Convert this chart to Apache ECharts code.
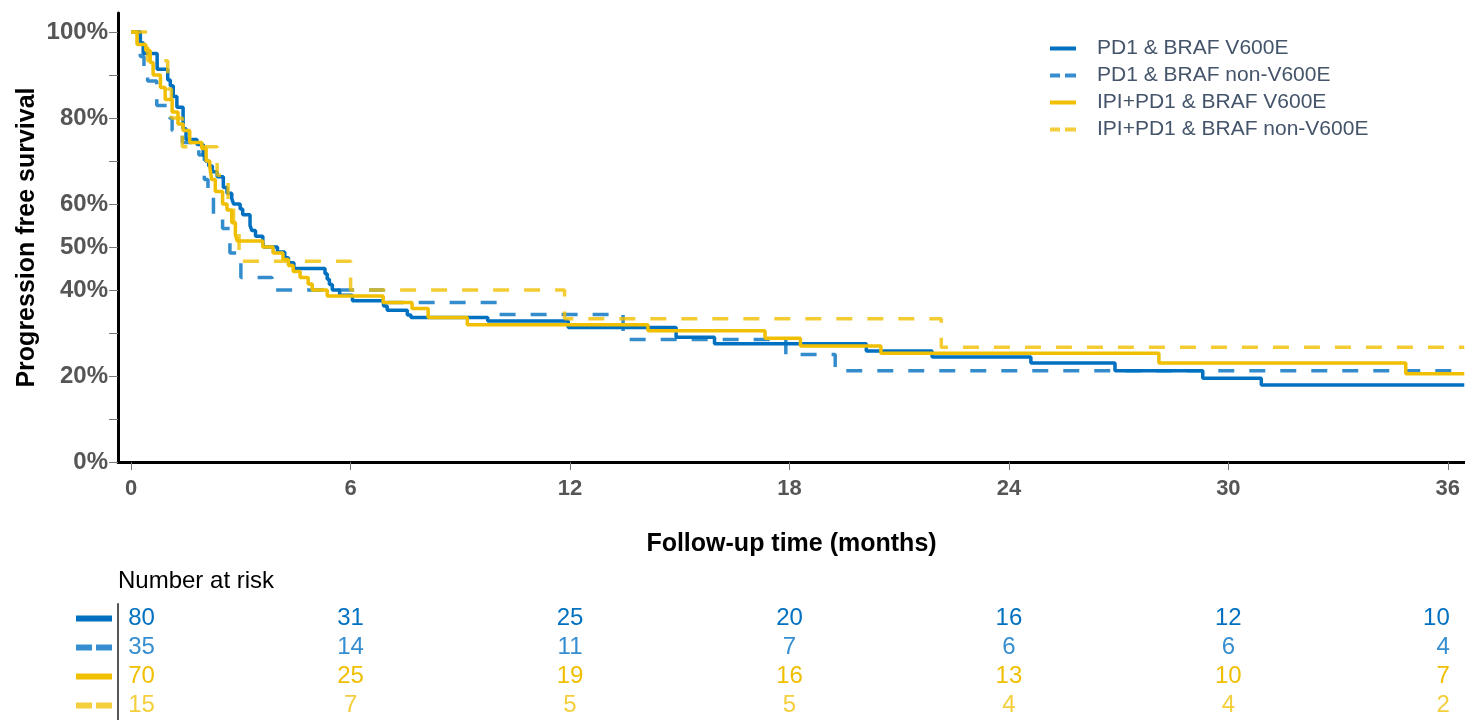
<!DOCTYPE html>
<html>
<head>
<meta charset="utf-8">
<script src="https://cdn.jsdelivr.net/npm/echarts@6/dist/echarts.min.js"></script>
<style>html,body{margin:0;padding:0;background:#fff}#c{width:1465px;height:720px}</style>
</head>
<body>
<div id="c"></div>
<script>
// ---- data ----
const seriesNames = ['PD1 & BRAF V600E', 'PD1 & BRAF non-V600E', 'IPI+PD1 & BRAF V600E', 'IPI+PD1 & BRAF non-V600E'];
const xTickMonths = [0, 6, 12, 18, 24, 30, 36];
const yTickValues = [0, 10, 20, 30, 40, 50, 60, 70, 80, 90, 100];
const yLabelValues = [0, 20, 40, 50, 60, 80, 100];

// PD1 & BRAF V600E (solid blue): event time (months) and survival (%) after it
const pd1V600eTime = [0, 0.25, 0.33, 0.71, 1.0, 1.07, 1.15, 1.25, 1.42, 1.5, 1.8, 1.97, 2.03, 2.12, 2.22, 2.35, 2.52, 2.62, 2.75, 2.8, 2.98, 3.05, 3.25, 3.3, 3.4, 3.6, 3.62, 4.0, 4.2, 4.3, 4.45, 5.3, 5.36, 5.42, 5.5, 5.7, 6.05, 6.9, 7.0, 7.55, 7.65, 9.75, 11.95, 14.9, 15.95, 20.1, 21.9, 24.6, 26.9, 29.3, 30.9, 36.45];
const pd1V600eSurv = [100, 97.5, 95.0, 91.3, 88.8, 87.5, 85.0, 82.5, 77.5, 75.0, 73.8, 71.3, 70.0, 68.8, 67.5, 66.3, 63.8, 62.5, 61.3, 60.0, 58.8, 57.5, 55.0, 53.8, 52.5, 51.3, 50.0, 48.8, 47.5, 46.3, 45.0, 43.8, 42.5, 41.3, 40.0, 38.8, 37.5, 36.3, 35.3, 34.2, 33.6, 32.8, 31.3, 29.0, 27.5, 25.8, 24.4, 23.0, 21.2, 19.5, 17.9, 17.9];

// PD1 & BRAF non-V600E (dashed blue)
const pd1NonTime = [0, 0.25, 0.35, 0.45, 0.7, 1.05, 1.12, 1.4, 1.85, 2.0, 2.1, 2.25, 2.5, 2.7, 3.0, 3.85, 6.9, 10.05, 13.45, 17.9, 19.25, 36.45];
const pd1NonSurv = [100, 94.3, 91.4, 88.6, 82.9, 80.0, 77.1, 74.3, 71.4, 65.7, 62.9, 57.1, 54.3, 48.6, 42.9, 40.0, 37.1, 34.3, 28.5, 25.0, 21.2, 21.2];

// IPI+PD1 & BRAF V600E (solid yellow)
const ipiV600eTime = [0, 0.16, 0.4, 0.52, 0.6, 0.8, 0.93, 1.12, 1.28, 1.42, 1.6, 1.93, 2.05, 2.15, 2.2, 2.3, 2.5, 2.62, 2.75, 2.85, 2.9, 3.6, 3.88, 4.15, 4.3, 4.43, 4.62, 4.84, 4.95, 5.36, 6.89, 7.68, 8.12, 9.19, 14.13, 17.33, 18.3, 20.5, 28.1, 34.85, 36.45];
const ipiV600eSurv = [100, 97.1, 95.7, 92.9, 90.0, 87.1, 84.3, 81.4, 78.6, 77.1, 74.3, 72.9, 70.0, 68.6, 65.7, 62.9, 60.0, 58.6, 55.7, 52.9, 51.4, 50.0, 48.6, 47.1, 45.7, 44.3, 42.9, 41.4, 40.0, 38.6, 37.1, 35.7, 33.6, 31.9, 30.5, 28.8, 27.0, 25.3, 23.0, 20.5, 20.5];

// IPI+PD1 & BRAF non-V600E (dashed yellow)
const ipiNonTime = [0, 0.45, 1.0, 1.1, 1.4, 2.35, 2.65, 2.8, 2.95, 6.0, 11.85, 22.15, 36.45];
const ipiNonSurv = [100, 93.3, 86.7, 80.0, 73.3, 66.7, 60.0, 53.3, 46.7, 40.0, 33.3, 26.7, 26.7];

// Number at risk at 0, 6, ..., 36 months
const riskPd1V600e = [80, 31, 25, 20, 16, 12, 10];
const riskPd1Non = [35, 14, 11, 7, 6, 6, 4];
const riskIpiV600e = [70, 25, 19, 16, 13, 10, 7];
const riskIpiNon = [15, 7, 5, 5, 4, 4, 2];

// ---- styling ----
const FONT = '"Liberation Sans", Arial, sans-serif';
const BLUE = '#0070C0', BLUE2 = '#368ED0', YEL = '#F0BF00', YEL2 = '#F4CE3C';
const curveTimes = [pd1V600eTime, pd1NonTime, ipiV600eTime, ipiNonTime];
const curveSurv = [pd1V600eSurv, pd1NonSurv, ipiV600eSurv, ipiNonSurv];
const riskRows = [riskPd1V600e, riskPd1Non, riskIpiV600e, riskIpiNon];
const lineColors = [BLUE, BLUE, YEL, YEL];
const dashed = [false, true, false, true];
const rowColors = [BLUE, BLUE2, YEL, YEL2];
const legendColors = [BLUE, BLUE2, YEL, YEL2];

const X_MIN = -0.36, X_MAX = 36.47;

const kmSeries = seriesNames.map((name, i) => ({
  name: name,
  type: 'line',
  step: 'end',
  symbol: 'none',
  xAxisIndex: 0, yAxisIndex: 0,
  data: curveTimes[i].map((t, k) => [t, curveSurv[i][k]]),
  lineStyle: { color: lineColors[i], width: 3.5, type: dashed[i] ? [16, 15] : 'solid', opacity: dashed[i] ? 0.8 : 1, cap: 'butt' },
  itemStyle: { color: lineColors[i] },
  emphasis: { disabled: true },
  z: 2 + i
}));

const riskSeries = riskRows.map((row, r) => ({
  name: 'risk' + r,
  type: 'scatter',
  xAxisIndex: 1, yAxisIndex: 1,
  symbolSize: 0,
  silent: true,
  itemStyle: { opacity: 1, color: rowColors[r] },
  data: row.map((v, k) => {
    const item = { value: [xTickMonths[k], r, v] };
    if (k === 0) item.label = { align: 'left', offset: [-3, 0] };
    if (k === row.length - 1) item.label = { align: 'right', offset: [2, 0] };
    return item;
  }),
  label: {
    show: true, position: 'inside', fontFamily: FONT, fontSize: 24, color: rowColors[r], opacity: 1,
    formatter: p => String(p.value[2])
  }
}));

const richIcons = {
  s0: { width: 36, height: 6, backgroundColor: BLUE },
  s2: { width: 36, height: 6, backgroundColor: YEL },
  d1: { width: 16, height: 6, backgroundColor: BLUE2 },
  d3: { width: 16, height: 6, backgroundColor: YEL2 },
  g: { width: 4, height: 6 }
};

const SOLID_ICON = 'path://M0,0H26V4H0Z';
const DASH_ICON = 'path://M0,0H10V4H0Z M15,0H26V4H15Z';

const option = {
  animation: false,
  backgroundColor: '#fff',
  title: {
    text: 'Number at risk', left: 118, top: 569, padding: 0,
    textStyle: { fontFamily: FONT, fontSize: 24, fontWeight: 'normal', color: '#000' }
  },
  legend: {
    orient: 'vertical', left: 1050, top: 38, padding: 0, itemWidth: 26, itemHeight: 4, itemGap: 6,
    selectedMode: false,
    textStyle: { fontFamily: FONT, fontSize: 21, color: '#44546A', padding: [0, 0, 0, 16] },
    data: seriesNames.map((n, i) => ({
      name: n,
      icon: dashed[i] ? DASH_ICON : SOLID_ICON,
      itemStyle: { color: legendColors[i], opacity: 1 }
    }))
  },
  grid: [
    { left: 118, right: 0, top: 13, height: 449 },
    { left: 118, right: 0, top: 604, height: 118 }
  ],
  xAxis: [
    {
      gridIndex: 0, type: 'value', min: X_MIN, max: X_MAX,
      name: 'Follow-up time (months)', nameLocation: 'middle', nameGap: 70, nameMoveOverlap: false,
      nameTextStyle: { fontFamily: FONT, fontSize: 25, fontWeight: 'bold', color: '#000' },
      axisLine: { show: true, onZero: false, lineStyle: { color: '#000', width: 3 } },
      axisTick: { show: true, length: 8, customValues: xTickMonths, lineStyle: { color: '#777', width: 1 } },
      axisLabel: { customValues: xTickMonths, margin: 16, fontFamily: FONT, fontSize: 22, fontWeight: 'bold', color: '#555' },
      splitLine: { show: false }
    },
    {
      gridIndex: 1, type: 'value', min: X_MIN, max: X_MAX, show: false
    }
  ],
  yAxis: [
    {
      gridIndex: 0, type: 'value', min: 0, max: 104.4,
      name: 'Progression free survival', nameLocation: 'middle', nameGap: 78, nameMoveOverlap: false,
      nameTextStyle: { fontFamily: FONT, fontSize: 25, fontWeight: 'bold', color: '#000' },
      axisLine: { show: true, onZero: false, lineStyle: { color: '#000', width: 3 } },
      axisTick: { show: true, length: 9, customValues: yTickValues, lineStyle: { color: '#777', width: 1 } },
      axisLabel: { customValues: yLabelValues, margin: 10, fontFamily: FONT, fontSize: 24, fontWeight: 'bold', color: '#555', formatter: v => v + '%' },
      splitLine: { show: false }
    },
    {
      gridIndex: 1, type: 'category', inverse: true, data: ['0', '1', '2', '3'],
      axisLine: { show: true, onZero: false, lineStyle: { color: '#555', width: 2 } },
      axisTick: { show: false },
      axisLabel: {
        margin: 6,
        formatter: v => ({ '0': '{s0| }', '1': '{d1| }{g| }{d1| }', '2': '{s2| }', '3': '{d3| }{g| }{d3| }' })[v],
        rich: richIcons
      },
      splitLine: { show: false }
    }
  ],
  series: kmSeries.concat(riskSeries)
};

const chart = echarts.init(document.getElementById('c'), null, { renderer: 'canvas' });
chart.setOption(option);
</script>
</body>
</html>
